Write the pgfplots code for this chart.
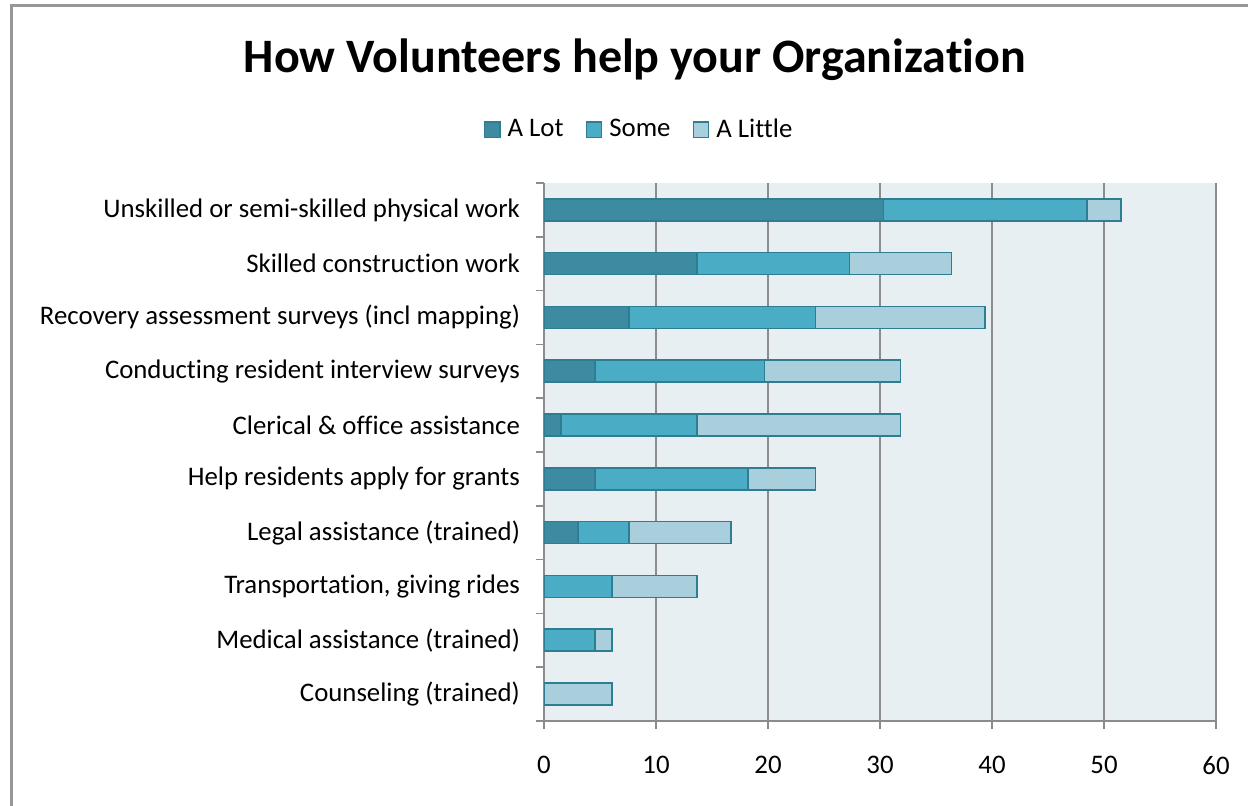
\documentclass[border=0pt]{standalone}
\usepackage{fontspec}
\setmainfont{Carlito}[Ligatures=NoCommon]
\usepackage{pgfplots}
\pgfplotsset{compat=1.18}

\definecolor{alot}{HTML}{3C8BA0}
\definecolor{some}{HTML}{4BACC6}
\definecolor{alittle}{HTML}{A9CFDD}
\definecolor{edge}{HTML}{2F7D92}
\definecolor{plotbg}{HTML}{E8EFF3}
\definecolor{gridc}{HTML}{8C8C8C}

% shares of respondents (percent), top category first
\pgfplotstableread{
pos  alot   some   little
9    30.30  18.18  3.03
8    13.64  13.64  9.09
7    7.58   16.67  15.15
6    4.55   15.15  12.12
5    1.52   12.12  18.18
4    4.55   13.64  6.06
3    3.03   4.55   9.09
2    0      6.06   7.58
1    0      4.55   1.52
0    0      0      6.06
}\datatable

\begin{document}
\begin{tikzpicture}
\path[use as bounding box] (0,0) rectangle (624pt,403pt);
\draw[gridc!90, line width=1.5pt] (5.5pt,0) -- (5.5pt,400pt) -- (624pt,400pt);
\node[font=\bfseries\fontsize{24}{28}\selectfont] at (317.5pt,373pt) {How Volunteers help your Organization};
\begin{axis}[
  at={(272pt,42.5pt)}, anchor=south west,
  scale only axis, width=336pt, height=269pt,
  xbar stacked, bar width=11pt,
  xmin=0, xmax=60, ymin=-0.5, ymax=9.5,
  xtick={0,10,...,60},
  ytick={0,...,9},
  yticklabels={Counseling (trained), Medical assistance (trained), {Transportation, giving rides}, Legal assistance (trained), Help residents apply for grants, Clerical \& office assistance, Conducting resident interview surveys, Recovery assessment surveys (incl mapping), Skilled construction work, Unskilled or semi-skilled physical work},
  minor ytick={-0.5,0.5,...,9.5},
  major y tick style={draw=none},
  minor tick length=4pt,
  major tick length=4pt,
  tick align=outside,
  tick style={gridc, line width=0.8pt},
  axis x line*=bottom, axis y line*=left,
  axis line style={gridc, line width=0.8pt, -},
  xmajorgrids, grid style={gridc, line width=0.8pt},
  axis background/.style={fill=plotbg},
  /pgf/number format/assume math mode=true,
  ticklabel style={font=\fontsize{13.4}{15}\selectfont},
  yticklabel style={xshift=-4.5pt},
  xticklabel style={yshift=-10pt},
  legend style={at={(0.143,1.0)}, anchor=south, yshift=17pt, draw=none, fill=none,
    legend columns=3, font=\fontsize{13.4}{15}\selectfont,
    /tikz/every odd column/.append style={column sep=1.5pt},
    /tikz/every even column/.append style={column sep=9pt}},
  legend image code/.code={\draw[#1, draw=edge] (0pt,-3.8pt) rectangle (7.6pt,3.8pt);},
]
\addplot[fill=alot, draw=edge, line width=0.8pt] table[x=alot, y=pos] {\datatable};
\addplot[fill=some, draw=edge, line width=0.8pt] table[x=some, y=pos] {\datatable};
\addplot[fill=alittle, draw=edge, line width=0.8pt] table[x=little, y=pos] {\datatable};
\legend{A Lot, Some, A Little}
\end{axis}
\end{tikzpicture}
\end{document}
